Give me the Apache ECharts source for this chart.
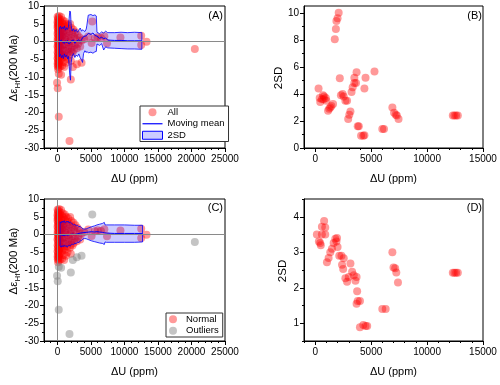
<!DOCTYPE html>
<html><head><meta charset="utf-8">
<script src="https://cdn.jsdelivr.net/npm/echarts@6/dist/echarts.min.js"></script>
<style>html,body{margin:0;padding:0;background:#fff}#c{width:500px;height:385px}</style>
</head><body><div id="c"></div>
<script>
// ---------- data ----------
// Normal grains: [ΔU (ppm), Δε_Hf(200 Ma)]
const normalPts = [
 [30,7.0],[120,6.6],[250,7.2],[60,6.1],[180,5.8],[350,6.3],[10,5.4],[90,5.0],[220,5.3],[400,5.6],
 [40,4.6],[150,4.2],[300,4.8],[500,4.4],[20,3.9],[110,3.5],[260,3.7],[430,3.2],[70,2.9],[190,2.6],
 [340,2.8],[550,2.4],[15,2.2],[130,1.9],[280,1.6],[460,1.8],[50,1.2],[210,0.9],[380,1.1],[600,0.6],
 [25,0.4],[100,0.1],[240,-0.2],[410,0.2],[60,-0.6],[170,-0.9],[320,-0.5],[520,-1.0],[10,-1.4],[140,-1.7],
 [270,-1.3],[450,-1.9],[80,-2.2],[200,-2.6],[360,-2.4],[30,-3.0],[120,-3.3],[290,-3.1],[480,-3.6],[60,-3.9],
 [180,-4.2],[340,-4.0],[20,-4.7],[110,-5.0],[250,-4.6],[420,-5.3],[70,-5.6],[190,-5.9],[310,-5.5],[30,-6.3],
 [140,-6.6],[260,-6.2],[60,-7.0],[180,-7.3],[90,-7.8],[400,-7.1],
 [550,6.9],[800,6.0],[1100,5.6],
 [700,5.2],[900,4.8],[1300,5.0],[1600,4.6],[1900,4.9],[800,3.9],[1100,4.1],[1500,3.6],[2100,3.8],[2400,3.3],
 [750,2.7],[1000,3.0],[1400,2.4],[1800,2.9],[2200,2.2],[2700,2.6],[650,1.5],[950,1.8],[1250,1.2],[1700,1.6],
 [2000,0.9],[2500,1.3],[3000,1.8],[800,0.3],[1150,0.6],[1550,-0.2],[1900,0.2],[2300,-0.4],[2800,0.5],[3300,1.1],
 [700,-1.2],[1050,-0.8],[1350,-1.5],[1750,-1.1],[2150,-1.7],[2600,-1.0],[3100,-0.6],[3600,0.3],[850,-2.3],[1200,-2.7],
 [1600,-2.1],[2000,-2.9],[2450,-2.4],[2900,-1.9],[3400,-1.4],[700,-3.5],[1000,-3.9],[1450,-3.3],[1850,-3.7],[2250,-3.1],
 [750,-4.6],[1100,-4.3],[1500,-5.0],[2000,-5.4],[900,-5.8],[1300,-6.0],[700,-6.8],[1000,-7.2],
 [4000,0.6],[4600,1.4],[5100,-0.4],[5600,0.9],[6000,1.2],[6500,1.0],[7000,1.5],[7400,-0.5],[9400,1.1],
 [12500,1.6],[12500,-1.0],[13300,-0.1]
];
// Outlier grains
const outlierPts = [
 [5200,5.6],[200,-9.1],[550,-9.4],[-50,-11.6],[50,-13.2],[200,-21.2],[1800,-28.0],
 [2000,-10.7],[2300,-7.2],[2900,-6.4],[3600,-6.0],[20500,-2.1]
];
// Moving mean and 2SD envelope, all grains (A)
const bandAX     = [300,450,600,750,900,1050,1200,1350,1500,1650,1750,1850,1950,2050,2200,2400,2600,2800,3000,3200,3400,3600,3750,3900,4100,4300,4400,4600,5000,5300,5600,5800,5900,6300,6600,6900,7200,7500,8500,9500,10500,11500,12600];
const bandAUpper = [3.8,4.3,3.5,4.1,3.6,4.4,3.2,3.9,3.4,4.2,6.5,8.6,8.3,4.5,3.0,3.6,2.8,3.4,2.6,3.2,3.8,2.9,3.3,3.1,2.8,3.5,4.6,7.4,7.6,7.3,7.5,7.2,2.6,2.2,2.7,2.4,2.9,2.5,2.5,2.6,2.5,2.6,2.5];
const bandALower = [-4.3,-3.6,-4.6,-3.9,-4.8,-3.5,-4.4,-3.8,-4.9,-4.2,-7.0,-9.5,-10.9,-6.0,-4.1,-3.4,-4.5,-3.8,-4.2,-3.5,-4.6,-5.2,-5.9,-3.4,-2.6,-3.1,-2.8,-3.2,-3.0,-3.3,-2.9,-2.8,-0.7,-1.1,-0.6,-2.4,-1.5,-1.8,-1.9,-2.0,-2.1,-2.1,-2.2];
const meanA      = [0.1,-0.3,0.4,-0.2,0.3,-0.5,0.2,-0.4,0.3,-0.6,-0.2,-0.9,-0.4,0.2,-0.3,0.4,-0.5,0.1,-0.3,0.5,-0.2,0.6,0.9,1.4,1.8,1.6,2.1,2.3,2.0,2.4,1.7,1.3,1.5,0.9,1.2,0.8,1.0,0.4,0.3,0.3,0.2,0.2,0.2];
// Moving mean and 2SD envelope, normal grains (C)
const bandCX     = [400,550,700,850,1000,1150,1300,1450,1600,1750,1900,2050,2200,2400,2600,2800,3000,3200,3400,3600,3800,4000,4300,4700,5100,5500,5900,6300,6700,7000,7100,7300,8500,10000,11500,12700];
const bandCUpper = [3.6,3.2,3.8,3.4,3.9,3.3,3.7,3.5,3.8,3.2,3.6,3.3,3.0,2.7,2.9,2.4,2.6,2.2,2.3,1.9,1.6,1.5,1.6,1.9,2.2,2.4,2.7,2.9,3.1,3.4,2.7,2.7,2.7,2.7,2.6,2.6];
const bandCLower = [-3.2,-3.6,-3.1,-3.5,-3.0,-3.4,-3.1,-3.6,-3.2,-3.0,-3.3,-2.9,-2.7,-2.9,-2.4,-2.6,-2.1,-2.3,-1.8,-1.7,-1.3,-1.1,-1.2,-1.5,-1.8,-2.0,-2.2,-2.4,-2.5,-2.8,-2.1,-2.2,-2.2,-2.2,-2.2,-2.1];
const meanC      = [0.0,0.3,-0.2,0.2,-0.3,0.1,-0.1,0.3,-0.2,0.2,0.0,-0.3,0.1,0.2,0.0,-0.1,0.2,0.3,0.4,0.3,0.5,0.5,0.6,0.7,0.8,0.7,0.8,0.7,0.6,0.5,0.4,0.4,0.3,0.3,0.3,0.3];
// 2SD vs ΔU (B: all grains, D: normal grains)
const sdAll = [
 [2100,10.0],[2000,9.6],[1900,9.4],[1850,8.8],[1750,8.05],
 [300,4.4],[450,3.4],[400,3.7],[600,3.6],[700,3.9],[800,3.8],[750,3.6],[950,3.7],[1000,3.5],
 [1150,2.75],[1250,2.9],[1350,3.0],[1450,3.1],[1600,3.25],
 [2200,5.15],[2300,3.9],[2450,4.0],[2550,3.8],[2700,3.5],[2850,3.5],
 [2950,2.15],[3050,2.45],[3150,2.7],
 [3250,4.15],[3350,4.5],[3500,4.8],[3500,5.2],[3700,5.6],[3650,4.8],
 [3800,1.6],[3900,1.6],[4100,0.9],[4300,0.9],[4400,0.95],
 [4400,4.4],[4500,5.2],[5300,5.65],
 [6000,1.4],[6150,1.4],
 [6900,3.0],[7050,2.6],[7200,2.45],[7300,2.4],[7450,2.15],
 [12300,2.4],[12450,2.4],[12600,2.4],[12750,2.4]
];
const sdNormal = [
 [150,3.5],[330,3.3],[450,3.26],[500,3.2],[600,3.72],[800,3.88],[900,3.7],[900,3.5],[600,3.5],
 [1050,2.72],[1200,2.84],[1350,3.0],[1500,3.1],[1650,3.26],[1800,3.38],[1950,3.4],[1900,3.3],[2000,3.15],
 [2150,2.9],[2350,2.9],[2400,2.65],[2500,2.53],[2550,2.83],[2700,2.27],[2850,2.17],[3000,2.3],[3150,2.68],
 [3300,2.45],[3450,2.35],[3600,2.2],[3700,2.3],[3750,1.9],[3800,1.63],[4000,1.63],[3700,1.55],
 [4000,0.89],[4300,0.95],[4500,0.92],[4650,0.92],[6000,1.4],[6300,1.4],
 [6900,3.0],[7000,2.57],[7150,2.55],[7250,2.43],[7400,2.15],
 [12300,2.42],[12450,2.42],[12600,2.42],[12750,2.42]
];
// tick values
const xMajorAC = [0,5000,10000,15000,20000,25000];
const xMinorAC = [-2000,-1000,1000,2000,3000,4000,6000,7000,8000,9000,11000,12000,13000,14000,16000,17000,18000,19000,21000,22000,23000,24000];
const yMajorAC = [-30,-25,-20,-15,-10,-5,0,5,10];
const yMinorAC = [-27.5,-22.5,-17.5,-12.5,-7.5,-2.5,2.5,7.5];
const xMajorBD = [0,5000,10000,15000];
const xMinorBD = [-1000,1000,2000,3000,4000,6000,7000,8000,9000,11000,12000,13000,14000];
const yMajorB = [0,2,4,6,8,10];
const yMinorB = [1,3,5,7,9];
const yMajorD = [1,2,3,4];
const yMinorD = [0.5,1.5,2.5,3.5,4.5];

// ---------- chart ----------
const FONT = 'Liberation Sans';
const RED = 'rgba(255,0,0,0.5)';
const GRAY = 'rgba(120,120,120,0.55)';
const BANDFILL = 'rgba(0,0,255,0.2)';
const grids = [
  {left:44, top:6, width:181, height:142},
  {left:304, top:6, width:179, height:142},
  {left:44, top:199, width:181, height:142},
  {left:304, top:199, width:179, height:142}
].map(g => Object.assign({show:true, borderColor:'#000', borderWidth:1, backgroundColor:'transparent'}, g));

function mainAxis(dim, gi, min, max, major, extra) {
  return Object.assign({
    type:'value', gridIndex:gi, min:min, max:max,
    position: dim === 'x' ? 'bottom' : 'left',
    axisLine:{show:true, onZero:false, lineStyle:{color:'#000', width:1}},
    axisTick:{show:true, inside:false, length:4, customValues:major, lineStyle:{color:'#000'}},
    axisLabel:{show:true, customValues:major, fontSize:10, fontFamily:FONT, color:'#000',
               margin: dim === 'x' ? 6 : 5, formatter: v => String(v)},
    splitLine:{show:false}
  }, extra || {});
}
function minorAxis(dim, gi, min, max, minor) {
  return {
    type:'value', gridIndex:gi, min:min, max:max,
    position: dim === 'x' ? 'bottom' : 'left',
    axisLine:{show:false, onZero:false},
    axisTick:{show:true, inside:false, length:2, customValues:minor, lineStyle:{color:'#000'}},
    axisLabel:{show:false},
    splitLine:{show:false}
  };
}
const xTitle = {name:'ΔU (ppm)', nameLocation:'middle', nameGap:25,
  nameTextStyle:{fontSize:11, fontFamily:FONT, color:'#000'}};

const xAxis = [
  mainAxis('x',0,-2000,25000,xMajorAC,xTitle),
  mainAxis('x',1,-1000,15000,xMajorBD,xTitle),
  mainAxis('x',2,-2000,25000,xMajorAC,xTitle),
  mainAxis('x',3,-1000,15000,xMajorBD,xTitle),
  minorAxis('x',0,-2000,25000,xMinorAC),
  minorAxis('x',1,-1000,15000,xMinorBD),
  minorAxis('x',2,-2000,25000,xMinorAC),
  minorAxis('x',3,-1000,15000,xMinorBD)
];
const yAxis = [
  mainAxis('y',0,-30,10,yMajorAC),
  mainAxis('y',1,0,10.5,yMajorB),
  mainAxis('y',2,-30,10,yMajorAC),
  mainAxis('y',3,0.5,4.5,yMajorD),
  minorAxis('y',0,-30,10,yMinorAC),
  minorAxis('y',1,0,10.5,yMinorB),
  minorAxis('y',2,-30,10,yMinorAC),
  minorAxis('y',3,0.5,4.5,yMinorD)
];

function bandSeries(name, gi, xs, ups, los) {
  return {
    name:name, type:'custom', xAxisIndex:gi, yAxisIndex:gi, z:3, clip:true, silent:true,
    itemStyle:{color:BANDFILL, borderColor:'#0000ff', borderWidth:1},
    data: xs.map((x,i) => [x, ups[i], los[i]]),
    encode:{x:0, y:[1,2]},
    renderItem: function(params, api) {
      if (params.dataIndex !== 0) return null;
      const pts = [];
      for (let i = 0; i < xs.length; i++) pts.push(api.coord([xs[i], ups[i]]));
      for (let i = xs.length - 1; i >= 0; i--) pts.push(api.coord([xs[i], los[i]]));
      return {type:'polygon', shape:{points:pts},
        style:{fill:BANDFILL, stroke:'rgba(0,0,255,0.8)', lineWidth:1}};
    }
  };
}
function meanSeries(name, gi, xs, ys) {
  return {name:name, type:'line', xAxisIndex:gi, yAxisIndex:gi, z:4, symbol:'none', silent:true,
    lineStyle:{color:'#0000ff', width:1}, itemStyle:{color:'#0000ff'},
    data: xs.map((x,i) => [x, ys[i]])};
}
const zeroLines = {
  silent:true, symbol:'none', label:{show:false}, animation:false,
  lineStyle:{color:'#8a8a8a', width:1, type:'solid'},
  data:[{xAxis:0},{yAxis:0}]
};
function scatter(name, gi, pts, color, z, mark) {
  const s = {name:name, type:'scatter', xAxisIndex:gi, yAxisIndex:gi, z:z, symbolSize:8,
    itemStyle:{color:color}, data:pts, silent:true};
  if (mark) s.markLine = zeroLines;
  return s;
}

const series = [
  scatter('All', 0, normalPts.concat(outlierPts), RED, 2, true),
  bandSeries('2SD', 0, bandAX, bandAUpper, bandALower),
  meanSeries('Moving mean', 0, bandAX, meanA),
  scatter('2SD all', 1, sdAll, RED, 2, false),
  scatter('Normal', 2, normalPts, RED, 2, true),
  scatter('Outliers', 2, outlierPts, GRAY, 2, false),
  bandSeries('2SD normal', 2, bandCX, bandCUpper, bandCLower),
  meanSeries('Moving mean normal', 2, bandCX, meanC),
  scatter('2SD norm', 3, sdNormal, RED, 2, false)
];

const legendCommon = {orient:'vertical', itemHeight:8, itemGap:1, selectedMode:false, symbolKeepAspect:true,
  borderColor:'#333', borderWidth:1, backgroundColor:'#fff',
  textStyle:{fontSize:9.5, lineHeight:10.5, fontFamily:FONT, color:'#000'}};
const legend = [
  Object.assign({}, legendCommon, {left:140, top:106, itemWidth:20, padding:[1,4,1,2],
    data:[{name:'All', icon:'circle'},
          {name:'Moving mean', icon:'path://M0,0 L40,0 L40,2.4 L0,2.4 Z', itemStyle:{color:'#0000ff'}},
          {name:'2SD', icon:'rect', itemStyle:{color:BANDFILL, borderColor:'#0000ff', borderWidth:1}}]}),
  Object.assign({}, legendCommon, {left:166, top:313, itemWidth:16, padding:[1,4,1,3],
    data:[{name:'Normal', icon:'circle'}, {name:'Outliers', icon:'circle'}]})
];

const sub = {fontSize:8, fontFamily:FONT, fill:'#000', verticalAlign:'bottom', lineHeight:9};
const main = {fontSize:11.5, fontFamily:FONT, fill:'#000', verticalAlign:'middle', lineHeight:16};
function yTitleEps(x, y) {
  return {type:'text', x:x, y:y, rotation:Math.PI/2, silent:true,
    style:{text:'{m|Δε}{s|Hf}{m|(200 Ma)}', rich:{m:main, s:sub},
      textAlign:'center', textVerticalAlign:'middle', align:'center', verticalAlign:'middle'}};
}
function plainText(txt, x, y, size, rot, align) {
  return {type:'text', x:x, y:y, rotation:rot || 0, silent:true,
    style:{text:txt, fontSize:size, fontFamily:FONT, fill:'#000',
      textAlign:align || 'center', align:align || 'center',
      textVerticalAlign:'middle', verticalAlign:'middle'}};
}
const graphic = [
  yTitleEps(14, 68),
  yTitleEps(14, 261),
  plainText('2SD', 279, 78, 11.5, Math.PI/2),
  plainText('2SD', 283, 271, 11.5, Math.PI/2),
  plainText('(A)', 223, 16, 11, 0, 'right'),
  plainText('(B)', 482, 16, 11, 0, 'right'),
  plainText('(C)', 223, 208, 11, 0, 'right'),
  plainText('(D)', 482, 208, 11, 0, 'right')
];

const chart = echarts.init(document.getElementById('c'), null, {renderer:'canvas'});
chart.setOption({
  animation:false,
  backgroundColor:'#fff',
  textStyle:{fontFamily:FONT},
  grid:grids, xAxis:xAxis, yAxis:yAxis, series:series, legend:legend, graphic:graphic
});
</script>
</body></html>
